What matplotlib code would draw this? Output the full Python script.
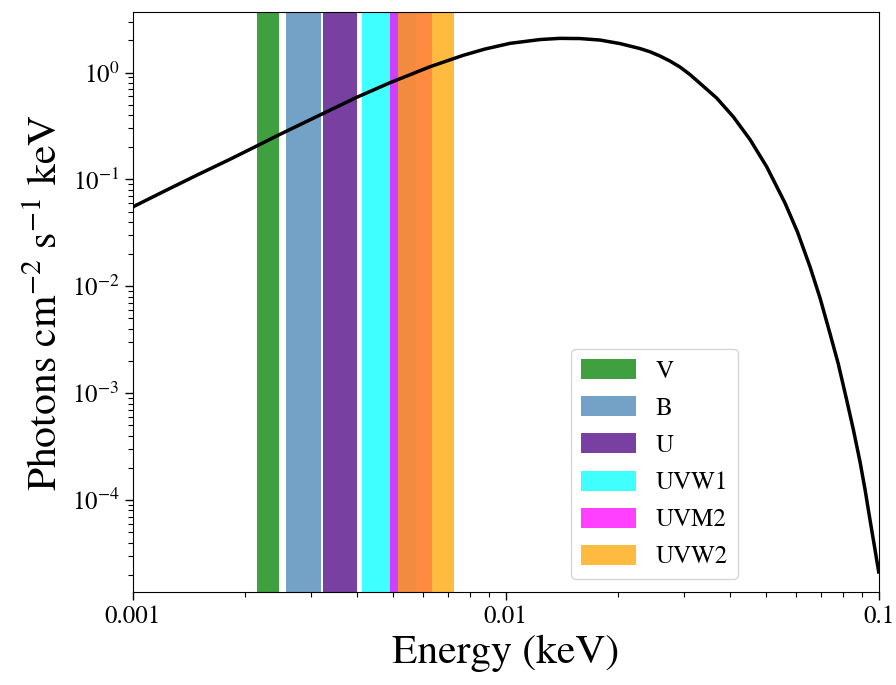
import numpy as np
import matplotlib
matplotlib.use("Agg")
import matplotlib.pyplot as plt
from matplotlib.patches import Patch
from matplotlib.ticker import NullFormatter

plt.rcParams['font.family'] = ['STIXGeneral', 'DejaVu Serif']
plt.rcParams['mathtext.fontset'] = 'stix'

# model spectrum (keV, photons cm^-2 s^-1 keV^-1)
energy = [0.001, 0.001208, 0.001484, 0.001823, 0.002150, 0.002483, 0.003177,
          0.003986, 0.004895, 0.006266, 0.007693, 0.008799, 0.01027, 0.01236,
          0.01398, 0.01582, 0.01790, 0.02025, 0.02291, 0.02437, 0.02593,
          0.02757, 0.02934, 0.03119, 0.03319, 0.03678, 0.04075, 0.04519,
          0.05008, 0.05609, 0.06058, 0.06543, 0.06962, 0.07400, 0.07793,
          0.08206, 0.08545, 0.08913, 0.09190, 0.09478, 0.09732, 0.1]
flux = [0.0552, 0.0767, 0.1093, 0.1542, 0.2053, 0.2642, 0.4003,
        0.5861, 0.8027, 1.133, 1.449, 1.659, 1.876, 2.036,
        2.089, 2.080, 2.014, 1.867, 1.677, 1.565, 1.427,
        1.281, 1.126, 0.958, 0.7925, 0.5774, 0.386, 0.2361,
        0.1315, 0.0601, 0.03221, 0.01526, 0.007771, 0.003634, 0.001876,
        8.64e-4, 4.62e-4, 2.272e-4, 1.257e-4, 6.51e-5, 3.76e-5, 2.125e-5]

# UVOT filter bands (keV)
filters = ['V', 'B', 'U', 'UVW1', 'UVM2', 'UVW2']
band_lo = [0.002150, 0.002576, 0.003243, 0.004127, 0.004895, 0.005154]
band_hi = [0.002467, 0.003204, 0.004002, 0.005747, 0.006344, 0.007255]
colors = ['green', 'steelblue', 'indigo', 'cyan', 'magenta', 'orange']

fig, ax = plt.subplots(figsize=(8.96, 6.85), dpi=100)
fig.subplots_adjust(left=0.148, right=0.9807, top=0.982, bottom=0.1358)

handles = []
for name, lo, hi, c in zip(filters, band_lo, band_hi, colors):
    ax.axvspan(lo, hi, color=c, alpha=0.75, lw=0)
    handles.append(Patch(facecolor=c, alpha=0.75, label=name))

ax.plot(energy, flux, color='black', lw=2.5)

ax.set_xscale('log')
ax.set_yscale('log')
ax.set_xlim(0.001, 0.1)
ax.set_ylim(1.38e-5, 3.66)

ax.set_xticks([0.001, 0.01, 0.1])
ax.set_xticklabels(['0.001', '0.01', '0.1'])
ax.xaxis.set_minor_formatter(NullFormatter())
ax.yaxis.set_minor_formatter(NullFormatter())
ax.tick_params(which='major', labelsize=18, length=6, width=1)
ax.tick_params(which='minor', length=3.5, width=0.8)

ax.set_xlabel('Energy (keV)', fontsize=30)
ax.set_ylabel('Photons cm$^{-2}$ s$^{-1}$ keV', fontsize=30)

ax.legend(handles=handles, loc='lower center', bbox_to_anchor=(0.699, 0.0),
          fontsize=18, handlelength=2.2, handleheight=0.85)

plt.savefig('out.png', dpi=100)
